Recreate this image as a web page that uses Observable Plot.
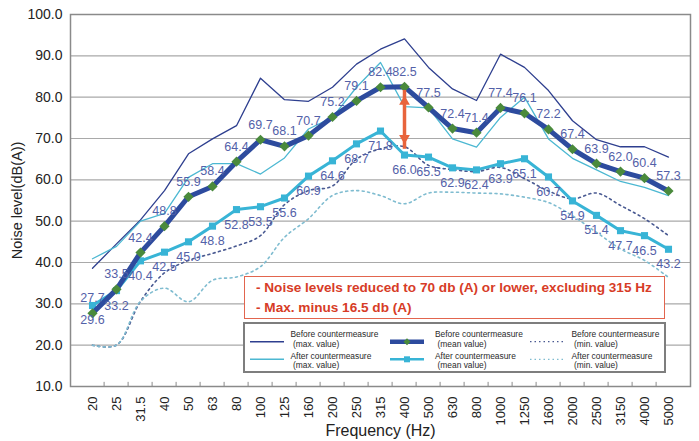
<!DOCTYPE html>
<html>
<head>
<meta charset="utf-8">
<script src="https://cdn.jsdelivr.net/npm/d3@7"></script>
<script src="https://cdn.jsdelivr.net/npm/@observablehq/plot@0.6"></script>
<style>
  html, body { margin: 0; padding: 0; background: #fff; }
  #wrap { position: relative; width: 699px; height: 441px; overflow: hidden; font-family: "Liberation Sans", Arial, sans-serif; }
  #wrap > svg.plot-main { position: absolute; left: 0; top: 0; }
  .note { position: absolute; left: 244px; top: 276px; width: 421px; height: 43px; box-sizing: border-box;
          border: 1.5px solid #e2654e; background: #fff; color: #d73c27; font-weight: bold; font-size: 13.6px;
          line-height: 20px; padding: 1px 0 0 11px; white-space: nowrap; }
  #wrap > svg#legend { position: absolute; left: 243px; top: 322px; }
</style>
</head>
<body>
<div id="wrap"></div>
<script>
// ---- data ----
const freqs = ["20","25","31.5","40","50","63","80","100","125","160","200","250","315","400","500","630","800","1000","1250","1600","2000","2500","3150","4000","5000"];
const beforeMax  = [38.6, 44.5, 50.3, 57.4, 66.3, 69.9, 73.1, 84.6, 79.4, 79.0, 82.4, 88.0, 91.6, 94.1, 87.2, 82.0, 79.2, 90.4, 87.2, 81.6, 74.3, 69.7, 68.0, 68.0, 65.5];
const beforeMean = [27.7, 33.5, 42.4, 48.8, 55.9, 58.4, 64.4, 69.7, 68.1, 70.7, 75.2, 79.1, 82.4, 82.5, 77.5, 72.4, 71.4, 77.4, 76.1, 72.2, 67.4, 63.9, 62.0, 60.4, 57.3];
const beforeMin  = [20.0, 20.0, 30.6, 37.5, 40.5, 42.2, 44.0, 46.5, 54.0, 57.4, 58.5, 65.0, 67.5, 68.0, 63.5, 62.5, 62.0, 63.0, 60.3, 57.3, 55.4, 56.8, 53.8, 50.6, 46.5];
const afterMax   = [40.9, 43.9, 50.0, 51.9, 60.6, 63.9, 63.9, 61.4, 65.3, 72.3, 75.1, 82.4, 88.4, 77.7, 77.4, 69.9, 67.9, 75.1, 80.0, 69.9, 65.2, 62.4, 59.6, 58.2, 56.2];
const afterMean  = [29.6, 33.2, 40.4, 42.5, 45.0, 48.8, 52.8, 53.5, 55.6, 60.9, 64.6, 68.7, 71.8, 66.0, 65.5, 62.9, 62.4, 63.9, 65.1, 60.7, 54.9, 51.4, 47.7, 46.5, 43.2];
const afterMin   = [20.0, 20.0, 30.6, 33.8, 30.5, 35.7, 36.5, 39.0, 46.1, 50.6, 56.2, 57.4, 56.2, 54.2, 56.8, 57.0, 56.8, 56.6, 55.8, 54.5, 51.3, 47.3, 43.3, 40.5, 36.4];
const yTicks = [10, 20, 30, 40, 50, 60, 70, 80, 90, 100];
const gridY = [20, 30, 40, 50, 60, 70, 80, 90];
const arrowFreq = ["400"];
const arrowTop = [80.4];
const arrowBottom = [68.6];
const noteLines = ["- Noise levels reduced to 70 db (A) or lower, excluding 315 Hz", "- Max. minus 16.5 db (A)"];
const legendItems = [
  {key: "beforeMax", line1: "Before countermeasure", line2: "(max. value)"},
  {key: "afterMax", line1: "After countermeasure", line2: "(max. value)"},
  {key: "beforeMean", line1: "Before countermeasure", line2: "(mean value)"},
  {key: "afterMean", line1: "After countermeasure", line2: "(mean value)"},
  {key: "beforeMin", line1: "Before countermeasure", line2: "(min. value)"},
  {key: "afterMin", line1: "After countermeasure", line2: "(min. value)"}
];

// ---- table ----
const rows = freqs.map((f, i) => ({
  freq: f, beforeMax: beforeMax[i], beforeMean: beforeMean[i], beforeMin: beforeMin[i],
  afterMax: afterMax[i], afterMean: afterMean[i], afterMin: afterMin[i]
}));
const arrowData = arrowFreq.map((f, i) => ({freq: f, top: arrowTop[i], bottom: arrowBottom[i]}));

const C = {
  beforeMax: "#2e3f8f", afterMax: "#4cb8d2", beforeMean: "#2d4b9e", afterMean: "#38b4d6",
  beforeMin: "#4a5a92", afterMin: "#7fbcd0", diamond: "#4a8a3c", label: "#5361a8", arrow: "#e8643c"
};

const W = 699, H = 441, mL = 70, mR = 9, mT = 14, mB = 55;
const halfStep = (W - mL - mR) / freqs.length / 2;

const chart = Plot.plot({
  width: W, height: H,
  marginTop: mT, marginBottom: mB, marginLeft: mL, marginRight: mR,
  className: "plot-main",
  style: {fontFamily: "'Liberation Sans', Arial, sans-serif", color: "#222", background: "transparent"},
  x: {type: "point", domain: freqs, padding: 0.5},
  y: {domain: [10, 100]},
  marks: [
    Plot.ruleY(gridY, {stroke: "#a9a9a9", strokeWidth: 1.2}),
    Plot.frame({stroke: "#8a8a8a", strokeWidth: 1.5}),
    Plot.ruleX(freqs.slice(1), {x: d => d, dx: -halfStep, y1: 10, y2: 11, stroke: "#8a8a8a"}),
    Plot.axisY({ticks: yTicks, tickFormat: d => d.toFixed(1), tickSize: 0, tickPadding: 8, fontSize: 14, label: null}),
    Plot.axisY({ticks: [], tickSize: 0, fontSize: 14.5,
                label: "Noise level(dB(A))", labelAnchor: "center", labelArrow: "none", labelOffset: 59}),
    Plot.axisX({tickRotate: -90, tickSize: 0, tickPadding: 10, fontSize: 13, label: null}),
    Plot.axisX({ticks: [], tickSize: 0, fontSize: 16,
                label: "Frequency (Hz)", labelAnchor: "center", labelArrow: "none", labelOffset: 49}),
    Plot.line(rows, {x: "freq", y: "beforeMin", stroke: C.beforeMin, strokeWidth: 1.6, strokeDasharray: "2,3.5", curve: "catmull-rom"}),
    Plot.line(rows, {x: "freq", y: "afterMin", stroke: C.afterMin, strokeWidth: 1.6, strokeDasharray: "2,3.5", curve: "catmull-rom"}),
    Plot.line(rows, {x: "freq", y: "beforeMax", stroke: C.beforeMax, strokeWidth: 1.3}),
    Plot.line(rows, {x: "freq", y: "afterMax", stroke: C.afterMax, strokeWidth: 1.3}),
    Plot.line(rows, {x: "freq", y: "afterMean", stroke: C.afterMean, strokeWidth: 3}),
    Plot.dot(rows, {x: "freq", y: "afterMean", symbol: "square", r: 4, fill: C.afterMean, stroke: "none"}),
    Plot.line(rows, {x: "freq", y: "beforeMean", stroke: C.beforeMean, strokeWidth: 5}),
    Plot.dot(rows, {x: "freq", y: "beforeMean", symbol: "diamond2", r: 4.6, fill: C.diamond, stroke: "none"}),
    Plot.text(rows, {x: "freq", y: "beforeMean", text: d => d.beforeMean.toFixed(1), dy: -15, fill: C.label, fontSize: 12.5}),
    Plot.text(rows, {x: "freq", y: "afterMean", text: d => d.afterMean.toFixed(1), dy: 15, fill: C.label, fontSize: 12.5}),
    Plot.ruleX(arrowData, {x: "freq", y1: "bottom", y2: "top", stroke: C.arrow, strokeWidth: 3.5, insetTop: 5, insetBottom: 5}),
    Plot.dot(arrowData, {x: "freq", y: "top", symbol: "triangle", r: 4, fill: C.arrow, stroke: "none", dy: 6.2}),
    Plot.dot(arrowData, {x: "freq", y: "bottom", symbol: "triangle", r: 4, rotate: 180, fill: C.arrow, stroke: "none", dy: -6.2})
  ]
});

const wrap = document.getElementById("wrap");
wrap.appendChild(chart);

// note box
const note = document.createElement("div");
note.className = "note";
note.innerHTML = noteLines.map(t => `<div>${t}</div>`).join("");
wrap.appendChild(note);

// pick a narrow font for the legend if one is installed, and size it to fit
const ctx = document.createElement("canvas").getContext("2d");
function widthOf(font, s) { ctx.font = font; return ctx.measureText(s).width; }
const probe = "Before countermeasure";
let legendFamily = "'Liberation Sans', Arial, sans-serif";
for (const fam of ["Liberation Sans Narrow", "Arial Narrow"]) {
  const a = widthOf(`11px "${fam}", monospace`, probe), b = widthOf("11px monospace", probe);
  if (Math.abs(a - b) > 0.5) { legendFamily = `'${fam}', 'Liberation Sans', sans-serif`; break; }
}
const natural = widthOf(`11px ${legendFamily}`, probe);
const legendFont = Math.min(11, 11 * 88 / natural);

// legend
const LW = 423, LH = 51;
const lg = d3.create("svg").attr("id", "legend").attr("width", LW).attr("height", LH)
  .style("font-family", legendFamily);
lg.append("rect").attr("x", 1).attr("y", 1).attr("width", LW - 2).attr("height", LH - 2)
  .attr("fill", "#fff").attr("stroke", "#7e7e7e").attr("stroke-width", 2);
const colX = [[7, 47.5], [147, 192], [287, 328.5]];
const rowSw = [19.7, 37.3];
const rowBase = [[15, 24.5], [36.8, 46.3]];
wrap.appendChild(lg.node());
legendItems.forEach((it, i) => {
  const col = Math.floor(i / 2), row = i % 2;
  const g = lg.append("g");
  const x0 = colX[col][0], x1 = x0 + 34, y = rowSw[row];
  const k = it.key;
  if (k === "beforeMean") {
    g.append("line").attr("x1", x0).attr("x2", x1).attr("y1", y).attr("y2", y).attr("stroke", C.beforeMean).attr("stroke-width", 4.5);
    const cx = (x0 + x1) / 2;
    g.append("path").attr("d", `M${cx},${y-3.5}L${cx+3.5},${y}L${cx},${y+3.5}L${cx-3.5},${y}Z`).attr("fill", C.diamond);
  } else if (k === "afterMean") {
    g.append("line").attr("x1", x0).attr("x2", x1).attr("y1", y).attr("y2", y).attr("stroke", C.afterMean).attr("stroke-width", 2.6);
    const cx = (x0 + x1) / 2;
    g.append("rect").attr("x", cx - 3).attr("y", y - 3).attr("width", 6).attr("height", 6).attr("fill", C.afterMean);
  } else if (k === "beforeMax" || k === "afterMax") {
    g.append("line").attr("x1", x0).attr("x2", x1).attr("y1", y).attr("y2", y).attr("stroke", C[k]).attr("stroke-width", 1.4);
  } else {
    g.append("line").attr("x1", x0).attr("x2", x1).attr("y1", y).attr("y2", y).attr("stroke", C[k]).attr("stroke-width", 1.3).attr("stroke-dasharray", "1.5,3");
  }
  [[it.line1, 0], [it.line2, 2.5]].forEach(([t, ind], j) => {
    g.append("text").attr("x", colX[col][1] + ind).attr("y", rowBase[row][j])
      .attr("font-size", legendFont.toFixed(2)).attr("fill", "#2a2a2a").text(t);
  });
});
</script>
</body>
</html>
